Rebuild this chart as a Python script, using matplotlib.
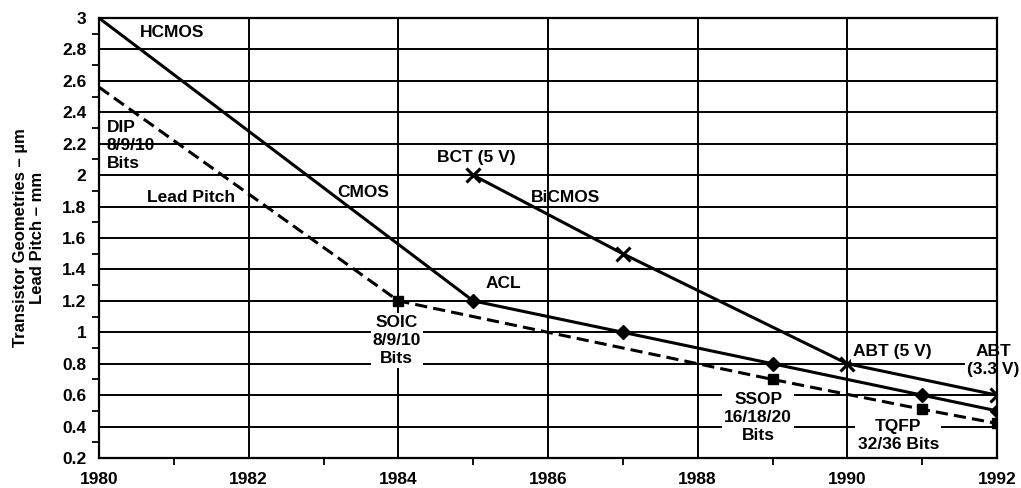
import matplotlib
matplotlib.use("Agg")
import matplotlib.pyplot as plt
from matplotlib.ticker import MultipleLocator

# Data
cmos_years = [1980, 1985, 1987, 1989, 1991, 1992]
cmos_um = [3.0, 1.2, 1.0, 0.8, 0.6, 0.5]

bicmos_years = [1985, 1987, 1990, 1992]
bicmos_um = [2.0, 1.5, 0.8, 0.6]

pitch_years = [1980, 1984, 1989, 1991, 1992]
pitch_mm = [2.56, 1.2, 0.7, 0.51, 0.42]

x_ticks = [1980, 1982, 1984, 1986, 1988, 1990, 1992]
y_ticks = [0.2, 0.4, 0.6, 0.8, 1, 1.2, 1.4, 1.6, 1.8, 2, 2.2, 2.4, 2.6, 2.8, 3]

plt.rcParams["font.family"] = ["Liberation Sans", "DejaVu Sans"]
plt.rcParams["font.weight"] = "bold"

fig = plt.figure(figsize=(10.21, 4.88), dpi=100)
ax = fig.add_axes([0.097, 0.0615, 0.8795, 0.9015])

lw = 2.2
ax.plot(cmos_years, cmos_um, color="black", lw=lw, zorder=3)
ax.plot(cmos_years[1:], cmos_um[1:], ls="none", marker="D", ms=7,
        color="black", zorder=4)
ax.plot(bicmos_years, bicmos_um, color="black", lw=lw, marker="x", ms=10,
        mew=2.2, zorder=3)
ax.plot(pitch_years, pitch_mm, color="black", lw=lw, dashes=(4, 2), zorder=3)
ax.plot(pitch_years[1:], pitch_mm[1:], ls="none", marker="s", ms=6.5,
        color="black", zorder=4)

ax.set_xlim(1980, 1992)
ax.set_ylim(0.2, 3.0)
ax.set_xticks(x_ticks)
ax.set_xticklabels([str(y) for y in x_ticks])
ax.set_yticks(y_ticks)
ax.set_yticklabels([f"{v:g}" for v in y_ticks])
ax.xaxis.set_minor_locator(MultipleLocator(1))
ax.yaxis.set_minor_locator(MultipleLocator(0.1))
ax.tick_params(which="major", length=0, labelsize=12.5)
ax.tick_params(axis="x", which="major", pad=10)
ax.tick_params(axis="y", which="major", pad=9)
ax.tick_params(which="minor", direction="out", length=5, width=1.3)
ax.grid(which="major", color="black", lw=1.4, zorder=1)
for s in ax.spines.values():
    s.set_linewidth(1.6)

ax.set_ylabel("Transistor Geometries – µm\nLead Pitch – mm",
              fontsize=12, fontweight="bold", labelpad=12)

fs = 12.5
ls = 1.25
white = dict(facecolor="white", edgecolor="none", pad=1.5)
ax.text(1980.55, 2.905, "HCMOS", fontsize=fs, ha="left", va="center")
ax.text(1980.1, 2.19, "DIP\n8/9/10\nBits", fontsize=fs, ha="left",
        va="center", linespacing=ls)
ax.text(1980.64, 1.86, "Lead Pitch", fontsize=fs, ha="left", va="center")
ax.text(1983.19, 1.89, "CMOS", fontsize=fs, ha="left", va="center")
ax.text(1985.04, 2.11, "BCT (5 V)", fontsize=fs, ha="center", va="center")
ax.text(1986.24, 1.86, "BiCMOS", fontsize=fs, ha="center", va="center")
ax.text(1985.4, 1.31, "ACL", fontsize=fs, ha="center", va="center")
ax.text(1983.98, 0.95, "SOIC\n8/9/10\nBits", fontsize=fs, ha="center",
        va="center", linespacing=ls, bbox=white)
ax.text(1988.81, 0.455, "SSOP\n16/18/20\nBits", fontsize=fs, ha="center",
        va="center", linespacing=ls, bbox=white)
ax.text(1990.68, 0.346, "TQFP\n32/36 Bits", fontsize=fs, ha="center",
        va="center", linespacing=ls, bbox=white)
ax.text(1990.08, 0.875, "ABT (5 V)", fontsize=fs, ha="left", va="center",
        bbox=white)
ax.text(1991.95, 0.82, "ABT\n(3.3 V)", fontsize=fs, ha="center",
        va="center", linespacing=ls, bbox=white, zorder=2)

fig.savefig("out.png", dpi=100)
